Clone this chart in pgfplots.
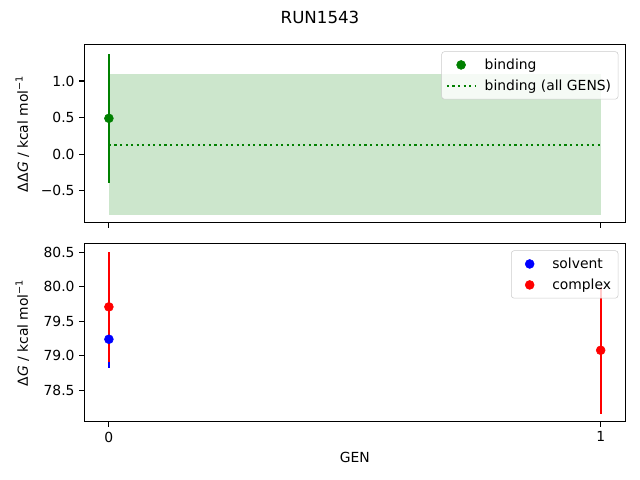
\documentclass[border=0pt]{standalone}
\usepackage{fontspec}
\setmainfont{DejaVu Sans}
\usepackage{pgfplots}
\pgfplotsset{compat=1.18}

\definecolor{mplgreen}{HTML}{008000}
\definecolor{mplblue}{HTML}{0000FF}
\definecolor{mplred}{HTML}{FF0000}

\pgfplotsset{
  runaxis/.style={
    scale only axis,
    width=389.5pt,
    height=128.5pt,
    xmin=-0.05, xmax=1.05,
    xtick={0,1},
    tick pos=left,
    tick align=outside,
    major tick length=3.5pt,
    every tick/.style={black, line width=0.8pt},
    axis line style={line width=0.8pt},
    tick label style={font=\fontsize{10}{12}\selectfont},
    label style={font=\fontsize{10}{12}\selectfont},
    ylabel style={at={(axis description cs:-0.1145,0.5)}, anchor=center},
    legend cell align=left,
    legend style={
      at={(1,1)}, xshift=-5pt, yshift=-5pt, anchor=north east,
      draw=black!20, fill=white, fill opacity=0.8, text opacity=1,
      rounded corners=2pt, font=\fontsize{10}{12}\selectfont,
      row sep=2pt, column sep=4pt, inner xsep=3pt, inner ysep=3pt,
    },
    error bars/y dir=both,
    error bars/y explicit,
    error bars/error mark=none,
  },
  % legend images as wide as matplotlib's (2em)
  line legend wide/.style={
    legend image code/.code={%
      \draw[opacity=1, ##1] (0cm,0cm) -- (0.72cm,0cm);}},
  mark legend wide/.style={
    legend image code/.code={%
      \path[draw=none, fill=none] (0cm,0cm) -- (0.72cm,0cm);
      \draw[opacity=1, mark repeat=2, mark phase=2, ##1]
        plot coordinates {(0cm,0cm) (0.36cm,0cm) (0.72cm,0cm)};}},
}

\begin{document}
\begin{tikzpicture}
\path[use as bounding box] (-60.7pt,-41.8pt) rectangle (400.1pt,303.8pt);

% title
\node[font=\fontsize{12}{14}\selectfont] at (169.7pt,291.6pt) {RUN1543};

% top: binding free energy
\begin{axis}[runaxis,
  at={(0pt,143.3pt)}, anchor=south west,
  ymin=-0.94, ymax=1.50,
  ytick={-0.5,0,0.5,1},
  yticklabels={−0.5,0.0,0.5,1.0},
  xticklabels={},
  ylabel={ΔΔ\textit{G} / kcal mol\textsuperscript{−1}},
]
  % all-GENS band
  \addplot[draw=none, fill=mplgreen, fill opacity=0.2, forget plot]
    coordinates {(0,-0.835) (1,-0.835) (1,1.095) (0,1.095)} -- cycle;
  % per-GEN binding
  \addplot[only marks, mark=*, mark size=3.2pt, color=mplgreen, mark legend wide,
    error bars/error bar style={line width=1.5pt, mplgreen}]
    coordinates {(0,0.49) +- (0,0.885)};
  \addlegendentry{binding}
  % mean over all GENS
  \addplot[mplgreen, line width=1.5pt, dash pattern=on 1.5pt off 2.5pt, no marks, line legend wide]
    coordinates {(0,0.13) (1,0.13)};
  \addlegendentry{binding (all GENS)}
\end{axis}

% bottom: solvent / complex
\begin{axis}[runaxis,
  at={(0pt,0pt)}, anchor=south west,
  ymin=78.04, ymax=80.63,
  ytick={78.5,79,79.5,80,80.5},
  yticklabels={78.5,79.0,79.5,80.0,80.5},
  xticklabels={0,1},
  ylabel={Δ\textit{G} / kcal mol\textsuperscript{−1}},
  xlabel={GEN},
  xlabel style={at={(axis description cs:0.5,0)}, anchor=center, yshift=-25.2pt},
]
  \addplot[only marks, mark=*, mark size=3.2pt, color=mplblue, mark legend wide,
    error bars/error bar style={line width=1.5pt, mplblue}]
    coordinates {(0,79.24) +- (0,0.41)};
  \addlegendentry{solvent}
  \addplot[only marks, mark=*, mark size=3.2pt, color=mplred, mark legend wide,
    error bars/error bar style={line width=1.5pt, mplred}]
    coordinates {(0,79.71) +- (0,0.80) (1,79.08) +- (0,0.92)};
  \addlegendentry{complex}
\end{axis}
\end{tikzpicture}
\end{document}
